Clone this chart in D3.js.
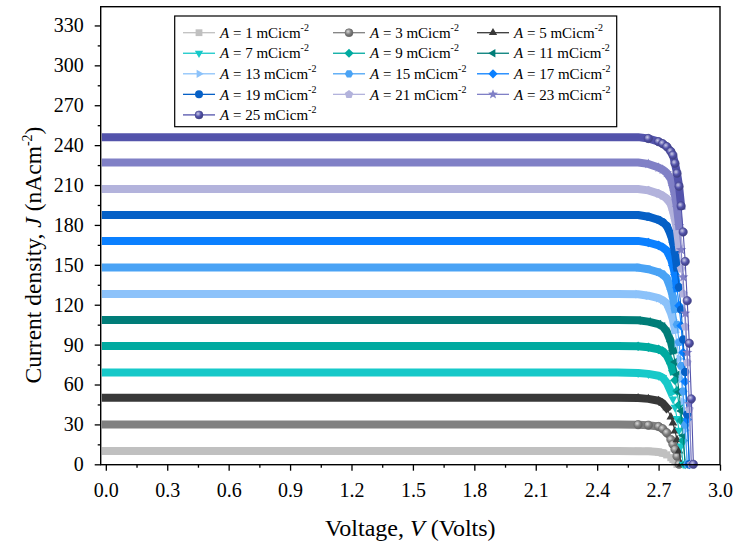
<!DOCTYPE html>
<html><head><meta charset="utf-8">
<script src="https://cdn.jsdelivr.net/npm/d3@7"></script>
<style>
body{margin:0;background:#fff}
svg{display:block}
text{font-family:"Liberation Serif","Times New Roman",serif;fill:#000}
</style>
</head><body>
<svg id="chart" width="735" height="546"></svg>
<script>
// ---------------- data ----------------
const aValues = [1, 3, 5, 7, 9, 11, 13, 15, 17, 19, 21, 23, 25];
const voltage = [0, 0.25, 0.5, 0.75, 1.0, 1.25, 1.5, 1.75, 2.0, 2.25, 2.5,
  2.6, 2.65, 2.7, 2.72, 2.74, 2.76, 2.77, 2.78, 2.79, 2.8, 2.81, 2.82, 2.83, 2.84, 2.85, 2.86, 2.87];
const j1  = [10,10,10,10,10,10,10,10,10,10,10, 9.9,9.8,9.2,8.5,7.1,5.0,3.7,2.0,0, null,null,null,null,null,null,null,null];
const j3  = [30,30,30,30,30,30,30,30,30,30,30, 29.8,29.4,28.4,26.7,23.7,18.6,15.0,11.1,6.0,0, null,null,null,null,null,null,null];
const j5  = [50,50,50,50,50,50,50,50,50,50,50, 49.8,49.2,47.8,46.0,42.5,35.5,31.0,25.0,18.5,10.0,0, null,null,null,null,null,null];
const j7  = [69,69,69,69,69,69,69,69,69,69,69, 68.7,68.0,66.6,65.2,61.4,54.5,49.0,42.8,34.5,25.5,13.8,0, null,null,null,null,null];
const j9  = [89,89,89,89,89,89,89,89,89,89,89, 88.8,88.0,86.4,85.1,81.9,75.7,70.3,63.2,55.2,44.5,32.9,17.8,0, null,null,null,null];
const j11 = [108.5,108.5,108.5,108.5,108.5,108.5,108.5,108.5,108.5,108.5,108.5, 108.3,107.3,105.4,103.7,99.8,92.2,85.7,77.0,67.3,54.3,40.1,21.7,0, null,null,null,null];
const j13 = [128,128,128,128,128,128,128,128,128,128,128, 127.9,126.8,124.9,123.5,121.0,113.9,108.8,101.1,90.9,79.4,64.0,47.4,25.6,0, null,null,null];
const j15 = [148,148,148,148,148,148,148,148,148,148,148, 147.9,146.7,144.4,142.8,139.9,131.7,125.8,116.9,105.1,91.8,74.0,54.8,29.6,0, null,null,null];
const j17 = [168,168,168,168,168,168,168,168,168,168,168, 168,166.8,164.6,163.1,160.6,154.6,149.5,142.8,132.7,119.3,104.2,84.0,62.2,33.6,0, null,null];
const j19 = [187.5,187.5,187.5,187.5,187.5,187.5,187.5,187.5,187.5,187.5,187.5, 187.5,186.2,183.8,182.1,179.3,172.5,166.9,159.4,148.1,133.1,116.3,93.8,69.4,37.5,0, null,null];
const j21 = [207,207,207,207,207,207,207,207,207,207,207, 207,206.0,203.5,202.0,199.8,195.6,190.4,184.2,176.0,163.5,147.0,128.3,103.5,76.6,41.4,0, null];
const j23 = [227,227,227,227,227,227,227,227,227,227,227, 227,225.9,223.1,221.6,219.1,214.5,208.8,202.0,193.0,179.3,161.2,140.7,113.5,84.0,45.4,0, null];
const j25 = [246,246,246,246,246,246,246,246,246,246,246, 246,245.0,242.6,241.1,238.9,235.2,232.5,226.3,218.9,209.1,194.3,174.7,152.5,123.0,91.0,49.2,0];
const currents = [j1, j3, j5, j7, j9, j11, j13, j15, j17, j19, j21, j23, j25];
const xTickValues = [0, 0.3, 0.6, 0.9, 1.2, 1.5, 1.8, 2.1, 2.4, 2.7, 3.0];
const yTickValues = [0, 30, 60, 90, 120, 150, 180, 210, 240, 270, 300, 330];
const xLabel = "Voltage, ";
const yLabel = "Current density, ";

// ---------------- styles ----------------
const colors = ["#c0c0c0","#808080","#383838","#17c9c9","#00aaa0","#007d78",
  "#8cc2fa","#4aa3f5","#0b80ff","#0660c6","#b3b3dc","#8080c6","#5353ab"];
const shapes = ["square","sphere","triUp","triDown","diamond","triLeft",
  "triRight","hexagon","diamond","circle","pentagon","star","sphere"];

const plot = {left: 100.7, right: 720, top: 6.7, bottom: 464.7};
const svg = d3.select("#chart");

const x = d3.scaleLinear().domain([-0.025, 3.0]).range([plot.left, plot.right]);
const y = d3.scaleLinear().domain([-0.3, 344.1]).range([plot.bottom, plot.top]);

const defs = svg.append("defs");
colors.forEach((c, i) => {
  if (shapes[i] !== "sphere") return;
  const g = defs.append("radialGradient").attr("id", "sph" + i)
    .attr("cx", "38%").attr("cy", "35%").attr("r", "65%");
  g.append("stop").attr("offset", "0%").attr("stop-color", d3.interpolateRgb(c, "#fff")(0.7));
  g.append("stop").attr("offset", "55%").attr("stop-color", c);
  g.append("stop").attr("offset", "100%").attr("stop-color", d3.color(c).darker(0.8));
});

function poly(n, r, rot) {
  const pts = d3.range(n).map(k => {
    const a = rot + k * 2 * Math.PI / n;
    return [r * Math.cos(a), r * Math.sin(a)];
  });
  return "M" + pts.map(p => p[0].toFixed(2) + "," + p[1].toFixed(2)).join("L") + "Z";
}
function starPath(r) {
  const pts = d3.range(10).map(k => {
    const rr = k % 2 ? r * 0.42 : r;
    const a = -Math.PI / 2 + k * Math.PI / 5;
    return [rr * Math.cos(a), rr * Math.sin(a)];
  });
  return "M" + pts.map(p => p[0].toFixed(2) + "," + p[1].toFixed(2)).join("L") + "Z";
}
function markerPath(shape, r) {
  switch (shape) {
    case "square": return `M${-r*0.85},${-r*0.85}h${1.7*r}v${1.7*r}h${-1.7*r}Z`;
    case "circle": case "sphere":
      return `M${r},0A${r},${r},0,1,1,${-r},0A${r},${r},0,1,1,${r},0Z`;
    case "triUp": return poly(3, r * 1.2, -Math.PI / 2);
    case "triDown": return poly(3, r * 1.2, Math.PI / 2);
    case "triLeft": return poly(3, r * 1.2, Math.PI);
    case "triRight": return poly(3, r * 1.2, 0);
    case "diamond": return poly(4, r * 1.15, 0);
    case "hexagon": return poly(6, r * 1.05, 0);
    case "pentagon": return poly(5, r * 1.1, -Math.PI / 2);
    case "star": return starPath(r * 1.3);
  }
}
function markerFill(i) { return shapes[i] === "sphere" ? `url(#sph${i})` : colors[i]; }
function markerStroke(i) { return shapes[i] === "sphere" ? d3.color(colors[i]).darker(0.6) : "none"; }

// ---------------- axes ----------------
const minorX = d3.range(0.15, 3.0, 0.3);
const minorY = d3.range(15, 344, 30);

svg.append("g").attr("transform", `translate(0,${plot.bottom})`)
  .call(d3.axisBottom(x).tickValues(minorX).tickSize(3).tickFormat(""))
  .call(g => g.select(".domain").remove());
svg.append("g").attr("transform", `translate(0,${plot.bottom})`)
  .call(d3.axisBottom(x).tickValues(xTickValues).tickSize(6).tickPadding(12.5).tickFormat(d3.format(".1f")))
  .call(g => g.select(".domain").remove());
svg.append("g").attr("transform", `translate(${plot.left},0)`)
  .call(d3.axisLeft(y).tickValues(minorY).tickSize(3).tickFormat(""))
  .call(g => g.select(".domain").remove());
svg.append("g").attr("transform", `translate(${plot.left},0)`)
  .call(d3.axisLeft(y).tickValues(yTickValues).tickSize(6).tickPadding(11).tickFormat(d3.format("d")))
  .call(g => g.select(".domain").remove());
svg.selectAll(".tick line").attr("stroke", "#000").attr("stroke-width", 1.3);
svg.selectAll(".tick text").attr("font-size", 20).attr("font-family", '"Liberation Serif",serif').attr("fill", "#000");

// ---------------- series ----------------
const seriesG = svg.append("g");
currents.forEach((js, i) => {
  const pts = voltage.map((v, k) => ({v, j: js[k]})).filter(d => d.j !== null);
  const jsc = js[0];
  const g = seriesG.append("g");
  const band = d3.line().x(d => x(d.v)).y(d => y(d.j)).defined(d => d.j >= 0.72 * jsc);
  g.append("path").attr("d", band(pts)).attr("fill", "none")
    .attr("stroke", colors[i]).attr("stroke-width", 8)
    .attr("stroke-linejoin", "round").attr("stroke-linecap", "square");
  const thin = d3.line().x(d => x(d.v)).y(d => y(d.j));
  g.append("path").attr("d", thin(pts)).attr("fill", "none")
    .attr("stroke", colors[i]).attr("stroke-width", 1.1);
  g.selectAll("path.m").data(pts.filter(d => d.j < jsc)).join("path").attr("class", "m")
    .attr("transform", d => `translate(${x(d.v)},${y(d.j)})`)
    .attr("d", markerPath(shapes[i], 4.2))
    .attr("fill", markerFill(i))
    .attr("stroke", markerStroke(i))
    .attr("stroke-width", 0.6);
});

// ---------------- frame ----------------
svg.append("rect").attr("x", plot.left).attr("y", plot.top)
  .attr("width", plot.right - plot.left).attr("height", plot.bottom - plot.top)
  .attr("fill", "none").attr("stroke", "#000").attr("stroke-width", 1.4);

// ---------------- axis titles ----------------
const xt = svg.append("text").attr("x", (plot.left + plot.right) / 2).attr("y", 535.5)
  .attr("text-anchor", "middle").attr("font-size", 24);
xt.append("tspan").text(xLabel);
xt.append("tspan").attr("font-style", "italic").text("V");
xt.append("tspan").text(" (Volts)");

const yt = svg.append("text").attr("transform", "translate(41,255) rotate(-90)")
  .attr("text-anchor", "middle").attr("font-size", 23.5);
yt.append("tspan").text(yLabel);
yt.append("tspan").attr("font-style", "italic").text("J");
yt.append("tspan").text(" (nAcm");
yt.append("tspan").attr("font-size", 14).attr("dy", -9).text("-2");
yt.append("tspan").attr("dy", 9).text(")");

// ---------------- legend ----------------
const lg = svg.append("g");
lg.append("rect").attr("x", 174.7).attr("y", 16).attr("width", 442).attr("height", 110.7)
  .attr("fill", "#fff").attr("stroke", "#000").attr("stroke-width", 1.2);
const colX = [183, 333, 477];
const rowY0 = 32.7, rowStep = 20.55;
aValues.forEach((a, i) => {
  const cx = colX[i % 3], cy = rowY0 + Math.floor(i / 3) * rowStep;
  const e = lg.append("g").attr("transform", `translate(${cx},${cy})`);
  e.append("line").attr("x1", 0).attr("x2", 32).attr("y1", 0).attr("y2", 0)
    .attr("stroke", colors[i]).attr("stroke-width", 1.3);
  e.append("path").attr("transform", "translate(16,0)").attr("d", markerPath(shapes[i], 4))
    .attr("fill", markerFill(i))
    .attr("stroke", markerStroke(i))
    .attr("stroke-width", 0.6);
  const t = e.append("text").attr("x", 37).attr("y", 5.2).attr("font-size", 15);
  t.append("tspan").attr("font-style", "italic").text("A");
  t.append("tspan").text(` = ${a} mCicm`);
  t.append("tspan").attr("font-size", 10).attr("dy", -7).text("-2");
});
</script>
</body></html>
